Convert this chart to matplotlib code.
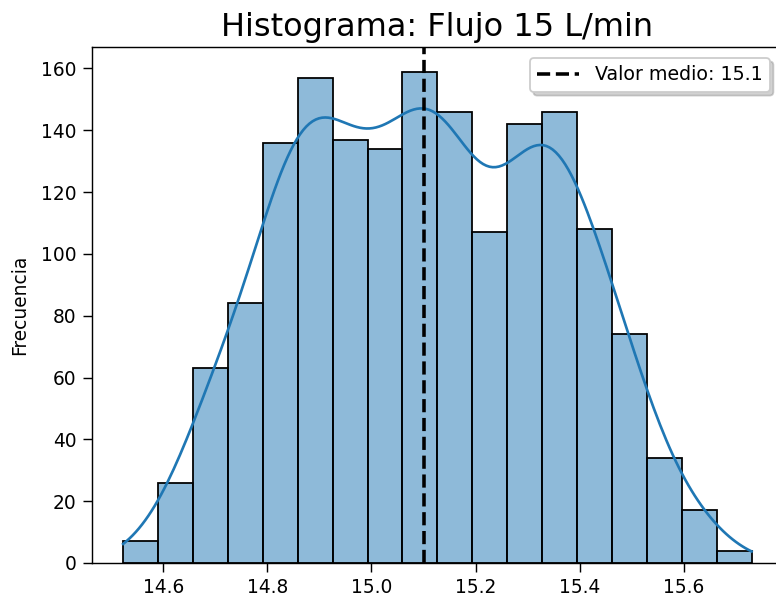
import numpy as np
import pandas as pd
import matplotlib
matplotlib.use("Agg")
import matplotlib.pyplot as plt
import seaborn as sns

# Histogram of measured flow values (L/min), 18 bins
bin_lo, bin_hi, n_bins = 14.523, 15.730, 18
bin_counts = [7, 26, 63, 84, 136, 157, 137, 134, 159,
              146, 107, 142, 146, 108, 74, 34, 17, 4]
mean_flow = 15.1

title = "Histograma: Flujo 15 L/min"
ylabel = "Frecuencia"

bin_edges = np.linspace(bin_lo, bin_hi, n_bins + 1)
df = pd.DataFrame({
    "flujo": (bin_edges[:-1] + bin_edges[1:]) / 2,
    "n": bin_counts,
})

fig = plt.figure(figsize=(776 / 128, 596 / 128), dpi=128)
ax = fig.add_axes([91.7 / 776, 33 / 596, (783 - 91.7) / 776, (563 - 47) / 596])

sns.histplot(data=df, x="flujo", weights="n", bins=list(bin_edges), kde=True,
             edgecolor="black", linewidth=1.0, ax=ax,
             kde_kws={"bw_method": 0.235, "cut": 3,
                      "clip": (bin_lo, bin_hi)},
             line_kws={"linewidth": 1.5})

ax.axvline(mean_flow, color="black", linestyle="--", linewidth=2.0,
           label=f"Valor medio: {mean_flow:.1f}")

ax.set_title(title, fontsize=18)
ax.set_ylabel(ylabel, fontsize=10.5, labelpad=6.5)
ax.set_xlabel("")
ax.tick_params(labelsize=10.5, length=5)
ax.legend(loc="upper right", bbox_to_anchor=(0.981, 0.979), borderaxespad=0,
          fontsize=10.7, handlelength=2.2,
          shadow={"alpha": 0.25})

fig.savefig("out.png", dpi=128)
